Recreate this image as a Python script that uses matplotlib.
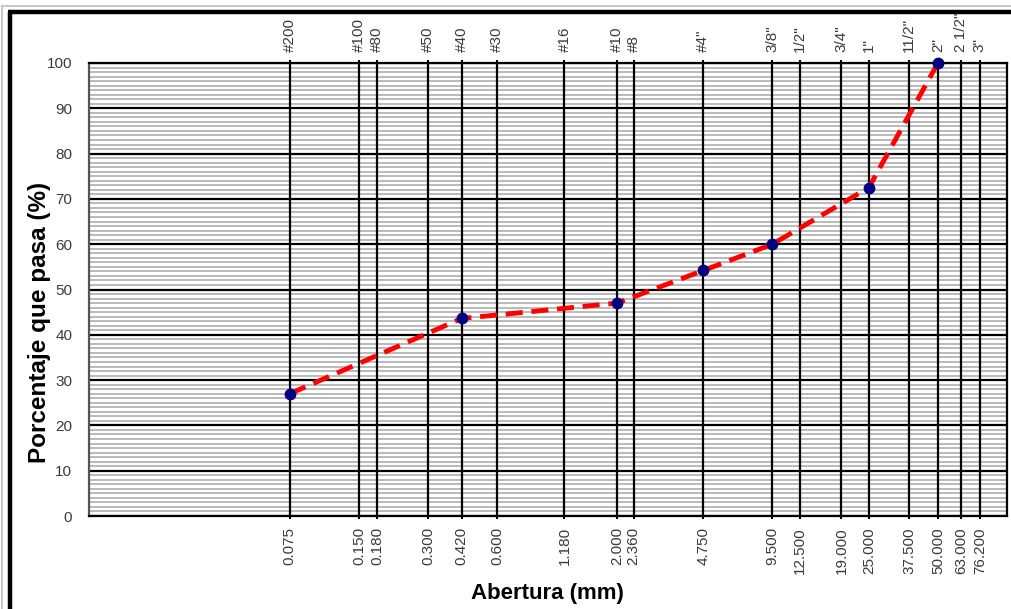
import matplotlib
matplotlib.use("Agg")
import matplotlib.pyplot as plt
from matplotlib.lines import Line2D
from matplotlib.ticker import FixedLocator, NullLocator, MultipleLocator

plt.rcParams['font.family'] = ['Liberation Sans', 'DejaVu Sans']

# sieve openings (mm) and their designations
aberturas = [0.075, 0.150, 0.180, 0.300, 0.420, 0.600, 1.180, 2.000, 2.360,
             4.750, 9.500, 12.500, 19.000, 25.000, 37.500, 50.000, 63.000, 76.200]
etiquetas_mm = ['0.075', '0.150', '0.180', '0.300', '0.420', '0.600', '1.180',
                '2.000', '2.360', '4.750', '9.500', '12.500', '19.000', '25.000',
                '37.500', '50.000', '63.000', '76.200']
tamices = ['#200', '#100', '#80', '#50', '#40', '#30', '#16', '#10', '#8',
           '#4"', '3/8"', '1/2"', '3/4"', '1"', '11/2"', '2"', '2 1/2"', '3"']

# grading curve
abertura_muestra = [0.075, 0.420, 2.000, 4.750, 9.500, 25.000, 50.000]
pasa = [27.0, 43.6, 47.0, 54.2, 60.0, 72.5, 100.0]

W, H = 1011, 609
fig = plt.figure(figsize=(W / 100, H / 100), dpi=100)
fig.patch.set_facecolor('white')

# outer frame
def fline(xs, ys, **kw):
    fig.add_artist(Line2D([x / W for x in xs], [1 - y / H for y in ys],
                          transform=fig.transFigure, **kw))

fline([2, 2], [6, H + 5], color='#c8c8c8', lw=1.5)
fline([2, W + 5], [6, 6], color='#c8c8c8', lw=1.5)
fline([9.5, 9.5], [11.5, H + 5], color='black', lw=3.2, solid_capstyle='butt')
fline([8, W + 5], [11.5, 11.5], color='black', lw=3.2, solid_capstyle='butt')

left, right, top, bottom = 89, 1007, 63, 516
ax = fig.add_axes([left / W, 1 - bottom / H, (right - left) / W, (bottom - top) / H])
ax.set_xscale('log')
ax.set_xlim(0.01, 100)
ax.set_ylim(0, 100)

ax.xaxis.set_major_locator(FixedLocator(aberturas))
ax.xaxis.set_minor_locator(NullLocator())
ax.set_xticklabels(etiquetas_mm, rotation=90, fontsize=11, color='#3a3a3a')
ax.tick_params(axis='x', which='major', length=2, width=1.5, pad=6)

ax.yaxis.set_major_locator(MultipleLocator(10))
ax.yaxis.set_minor_locator(MultipleLocator(1))
ax.tick_params(axis='y', which='both', length=0, pad=12, labelsize=11,
               labelcolor='#3a3a3a')

ax.grid(axis='y', which='minor', color='#b4b4b4', lw=1.3)
ax.grid(axis='y', which='major', color='black', lw=1.6)
ax.grid(axis='x', which='major', color='black', lw=1.6)
ax.set_axisbelow(True)
# sieve lines on top of the fine horizontal ruling
ax.xaxis.set_zorder(0.6)

for s in ax.spines.values():
    s.set_color('black')
    s.set_linewidth(1.6)
ax.spines['left'].set_color('#555555')

top_ax = ax.secondary_xaxis('top')
top_ax.xaxis.set_major_locator(FixedLocator(aberturas))
top_ax.xaxis.set_minor_locator(NullLocator())
top_ax.set_xticklabels(tamices, rotation=90, fontsize=11, color='#3a3a3a')
top_ax.tick_params(axis='x', length=2, width=1.5, pad=6)
top_ax.spines['top'].set_visible(False)

ax.plot(abertura_muestra, pasa, color='#ff0000', lw=3.5, ls=(0, (3.5, 1.8)),
        zorder=3)
ax.plot(abertura_muestra, pasa, ls='none', marker='o', ms=7.5,
        color='#000080', zorder=4, clip_on=False)

fig.text(40 / W, 1 - 322 / H, 'Porcentaje que pasa (%)', rotation=90,
         ha='center', va='center', fontsize=17.5, fontweight='bold')
fig.text(547 / W, 1 - 594 / H, 'Abertura (mm)', ha='center', va='center',
         fontsize=16, fontweight='bold')

fig.savefig('out.png', dpi=100)
